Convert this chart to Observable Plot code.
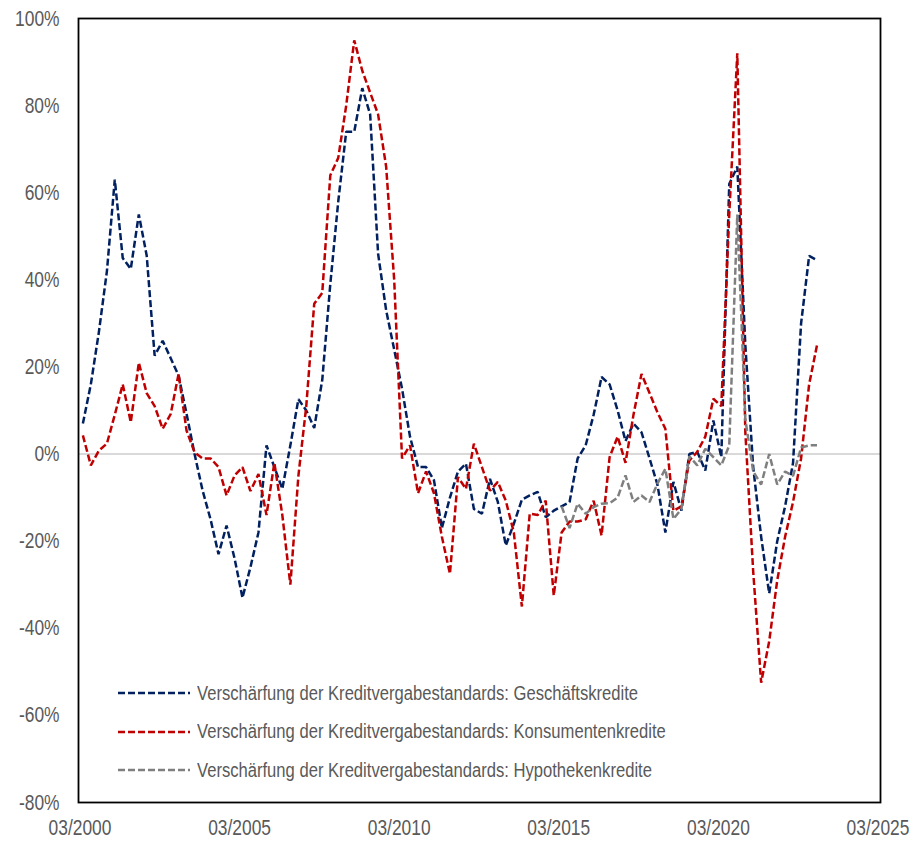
<!DOCTYPE html>
<html><head><meta charset="utf-8">
<script src="https://cdn.jsdelivr.net/npm/d3@7"></script>
<script src="https://cdn.jsdelivr.net/npm/@observablehq/plot@0.6"></script>
<style>
body{margin:0;background:#fff;}
#wrap{position:relative;width:914px;height:845px;overflow:hidden;}
#legend{position:absolute;left:118px;top:674px;font-family:"Liberation Sans",Arial,sans-serif;font-size:20px;color:#595959;}
#legend .row{display:flex;align-items:center;height:38.5px;white-space:nowrap;}
#legend svg{margin-right:7px;flex:none;}
#legend span{display:inline-block;transform:scaleX(0.83);transform-origin:left center;}
</style></head><body><div id="wrap"><div id="legend"></div></div>
<script>
// Quarterly observations, first one in April 2000 (values in %)
const seriesNames = [
  "Verschärfung der Kreditvergabestandards: Geschäftskredite",
  "Verschärfung der Kreditvergabestandards: Konsumentenkredite",
  "Verschärfung der Kreditvergabestandards: Hypothekenkredite"
];
const seriesColors = ["#002060", "#C00000", "#7F7F7F"];

const geschaeft = [7,16,28,42,63,45,42.5,55,45.6,22.6,26,22,18,9.3,0,-8.4,-15,-23,-16.4,-24,
  -33,-26,-18,2,-3,-8,2,12.6,10,6,17,39,58,74,74,84,78,46,33,24,
  15,4,-3,-3,-6,-17,-10,-4,-2.2,-12.6,-13.7,-5.7,-11,-21,-16,-10.5,-9.5,-8.7,-14.5,-13,
  -12,-11,-1,2,9,17.7,16,10,3,7,5,-1,-7,-18,-6.4,-13,0,0.5,-3.8,7.7,
  -0.7,62,66,25,-3,-19,-32,-20,-12,-2,30,45.5,44.5];
const konsum = [4.3,-2.6,0.8,2.4,9,16,7.3,21,14,11,5.8,9.2,18.4,5.4,0.4,-1,-1,-3,-9.5,-4.9,
  -3,-8.5,-4.6,-14,-2,-14,-30,-5,11,34.5,37,64,68,80,95,88,83,78,66,40,
  -1,2,-9,-4,-9,-19,-27.5,-5.3,-8,2.4,-3,-8.4,-6.4,-10.7,-18,-35,-13.7,-14,-10.7,-32.5,
  -18,-15.5,-15.5,-15,-10.7,-18.7,-0.7,4,-2,9,18.4,14,9.6,5.8,-13,-12,-1.5,0.5,4,12.7,
  11,55,92,5,-27,-52.5,-43,-29,-19,-11,-1,16,25];
const hypoStart = 60; // first quarter index of the mortgage series
const hypothek = [-12,-17,-11.4,-13.7,-12.2,-11.4,-11.3,-10,-4.9,-11,-9.5,-11,-6.8,-3.4,-14.9,-12.6,-0.5,-2.6,1.2,-0.7,
  -2.6,2,55,8,-4,-7,0,-7,-4,-5,1.5,2,2];

const yTicks = [-80,-60,-40,-20,0,20,40,60,80,100];
const xTickYears = [2000,2005,2010,2015,2020,2025];

const qDate = k => new Date(Date.UTC(2000, 3 + 3*k, 3));
const rows = [];
geschaeft.forEach((v,k)=>rows.push({date:qDate(k), value:v, series:seriesNames[0]}));
konsum.forEach((v,k)=>rows.push({date:qDate(k), value:v, series:seriesNames[1]}));
hypothek.forEach((v,k)=>rows.push({date:qDate(k+hypoStart), value:v, series:seriesNames[2]}));

const T0 = Date.UTC(2000,2,1), T1 = Date.UTC(2025,2,1), S = T1 - T0;
const d0 = new Date(T0 - 1.5*S/798), d1 = new Date(T1 + 2.5*S/798);
const FONT = '"Liberation Sans",Arial,sans-serif';

const chart = Plot.plot({
  width: 914, height: 845,
  marginLeft: 78, marginRight: 34, marginTop: 18, marginBottom: 43,
  style: {fontFamily: FONT, fontSize: "22px", color: "#595959", background: "white", overflow: "visible"},
  x: {type: "utc", domain: [d0, d1], ticks: xTickYears.map(y=>new Date(Date.UTC(y,2,1))),
      tickFormat: d3.utcFormat("%m/%Y"), tickSize: 0, tickPadding: 17, label: null},
  y: {domain: [-80, 100], ticks: yTicks, tickFormat: d => `${d}%`, tickSize: 0, tickPadding: 19, label: null},
  color: {domain: seriesNames, range: seriesColors},
  marks: [
    Plot.ruleY([0], {stroke: "#d9d9d9", strokeWidth: 2}),
    Plot.line(rows, {x: "date", y: "value", z: "series", stroke: "series",
      strokeWidth: 2.5, strokeDasharray: "7,3", strokeLinecap: "butt", strokeLinejoin: "miter"}),
    Plot.frame({stroke: "black", strokeWidth: 1.8})
  ]
});
document.getElementById("wrap").prepend(chart);

// condense tick labels horizontally (narrow font look) via textLength
chart.querySelectorAll('g[aria-label$="tick label"] text').forEach(t=>{
  const len = t.getComputedTextLength();
  if (len > 0) {
    t.setAttribute("textLength", (len * 0.79).toFixed(2));
    t.setAttribute("lengthAdjust", "spacingAndGlyphs");
  }
});

const leg = document.getElementById("legend");
seriesNames.forEach((n,i)=>{
  const r = document.createElement("div"); r.className="row";
  r.innerHTML = `<svg width="72" height="6"><line x1="0" y1="3" x2="72" y2="3" stroke="${seriesColors[i]}" stroke-width="2.5" stroke-dasharray="7,3"/></svg><span>${n}</span>`;
  leg.appendChild(r);
});
</script></body></html>
